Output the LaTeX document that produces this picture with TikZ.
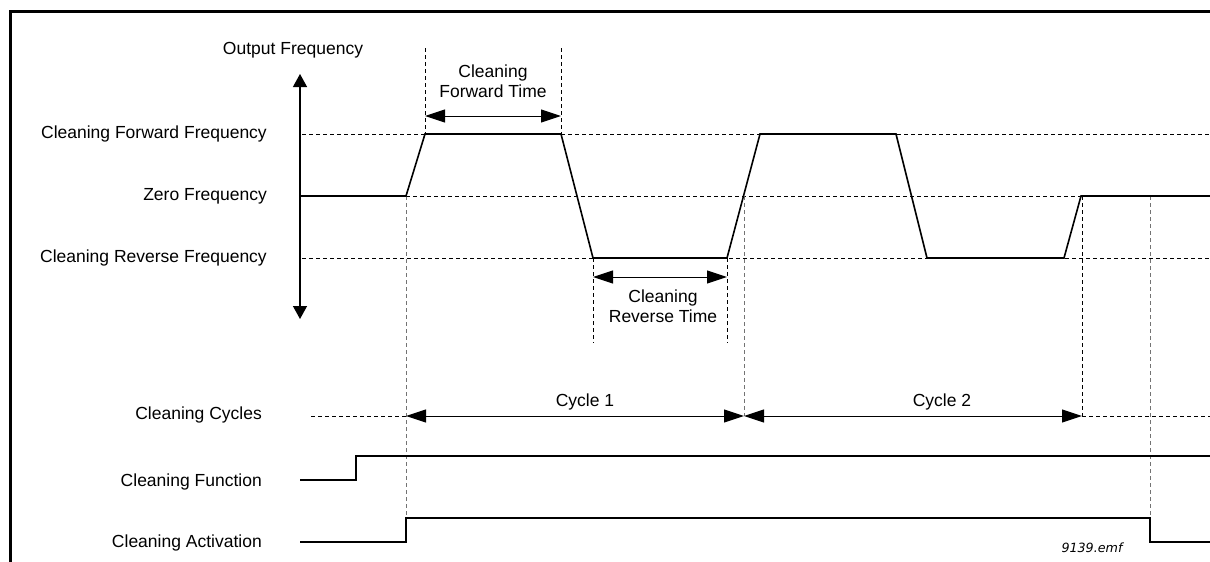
\documentclass[tikz,border=0pt]{standalone}
\usepackage{fontspec}
\setmainfont{Liberation Sans}
\newfontfamily\emffont{DejaVu Sans}
\usetikzlibrary{arrows.meta}
\begin{document}
\begin{tikzpicture}[x=1pt,y=-1pt,
  lbl/.style={font=\fontsize{17.5}{20}\selectfont, inner sep=0pt},
  wave/.style={line width=1.6pt, line join=miter},
  guide/.style={line width=0.9pt, dash pattern=on 4pt off 3pt},
  guidegray/.style={guide, draw=black!55},
  dimarrow/.style={line width=1pt, {Triangle[length=20pt,width=13pt]}-{Triangle[length=20pt,width=13pt]}},
  axisarrow/.style={line width=1.3pt, {Triangle[length=13pt,width=14pt]}-{Triangle[length=13pt,width=14pt]}},
]
\useasboundingbox (0,0) rectangle (1210,562);
% frame
\coordinate (ftl) at (10,11);
\coordinate (ftr) at (1210,11);
\coordinate (fbl) at (10,562);
\draw[line width=3pt] (ftr) -- (ftl) -- (fbl);

% coordinates
\coordinate (ax1) at (300,74);
\coordinate (ax2) at (300,319);
\coordinate (w0) at (300,196);
\coordinate (w1) at (406,196);
\coordinate (w2) at (425,134);
\coordinate (w3) at (561,134);
\coordinate (w4) at (593,258);
\coordinate (w5) at (727,258);
\coordinate (w6) at (760,134);
\coordinate (w7) at (896,134);
\coordinate (w8) at (927,258);
\coordinate (w9) at (1064,258);
\coordinate (w10) at (1081,196);
\coordinate (w11) at (1210,196);
\coordinate (zc) at (744,196);

\coordinate (ff0) at (302,134); \coordinate (ff1) at (1210,134);
\coordinate (rf0) at (302,258); \coordinate (rf1) at (1210,258);
\coordinate (ft0) at (425,48); \coordinate (ft1) at (561,48);
\coordinate (fta) at (425,116); \coordinate (ftb) at (561,116);
\coordinate (rt0) at (593,343); \coordinate (rt1) at (727,343);
\coordinate (rta) at (593,277); \coordinate (rtb) at (727,277);

\coordinate (cy0) at (311,416);
\coordinate (cya) at (406,416);
\coordinate (cyb) at (744,416);
\coordinate (cyc) at (1082,416);
\coordinate (cy1) at (1210,416);
\coordinate (z3) at (1082,196);
\coordinate (z4) at (1150,196);

\coordinate (cf0) at (300,480); \coordinate (cf1) at (356,480);
\coordinate (cf2) at (356,456); \coordinate (cf3) at (1210,456);
\coordinate (ca0) at (300,542); \coordinate (ca1) at (406,542);
\coordinate (ca2) at (406,518); \coordinate (ca3) at (1150,518);
\coordinate (ca4) at (1150,542); \coordinate (ca5) at (1210,542);

% guides
\draw[guide] (ff0) -- (ff1);
\draw[guide] (w1) -- (w11);
\draw[guide] (rf0) -- (rf1);
\draw[guide] (ft0) -- (w2);
\draw[guide] (ft1) -- (w3);
\draw[guide] (w4) -- (rt0);
\draw[guide] (w5) -- (rt1);
\draw[guidegray] (w1) -- (ca2);
\draw[guidegray] (zc) -- (cyb);
\draw[guide] (z3) -- (cyc);
\draw[guidegray] (z4) -- (ca3);
\draw[guide] (cy0) -- (cya);
\draw[guide] (cyc) -- (cy1);

% axis
\draw[axisarrow] (ax1) -- (ax2);

% waveform
\draw[wave] (w0) -- (w1) -- (w2) -- (w3) -- (w4) -- (w5) -- (w6) -- (w7) -- (w8) -- (w9) -- (w10) -- (w11);

% dimension arrows
\draw[dimarrow] (fta) -- (ftb);
\draw[dimarrow] (rta) -- (rtb);
\draw[dimarrow] (cya) -- (cyb);
\draw[dimarrow] (cyb) -- (cyc);

% signals
\draw[wave] (cf0) -- (cf1) -- (cf2) -- (cf3);
\draw[wave] (ca0) -- (ca1) -- (ca2) -- (ca3) -- (ca4) -- (ca5);

% labels
\node[lbl, anchor=base] (tout) at (293,54) {Output Frequency};
\node[lbl, anchor=base east] (tcff) at (267,138) {Cleaning Forward Frequency};
\node[lbl, anchor=base east] (tzf) at (267,200) {Zero Frequency};
\node[lbl, anchor=base east] (tcrf) at (267,262) {Cleaning Reverse Frequency};
\node[lbl, anchor=base east] (tcc) at (262,419) {Cleaning Cycles};
\node[lbl, anchor=base east] (tcfn) at (262,486) {Cleaning Function};
\node[lbl, anchor=base east] (tca) at (262,547) {Cleaning Activation};
\node[lbl, anchor=base] (tc1) at (585,406) {Cycle 1};
\node[lbl, anchor=base] (tc2) at (942,406) {Cycle 2};
\node[lbl, align=center] (tft) at (493,81.5) {Cleaning\\Forward Time};
\node[lbl, align=center] (trt) at (663,306.5) {Cleaning\\Reverse Time};
\node[inner sep=0pt, font=\emffont\itshape\fontsize{12.7}{15}\selectfont, anchor=base] (temf) at (1092,552) {9139.emf};
\end{tikzpicture}
\end{document}
